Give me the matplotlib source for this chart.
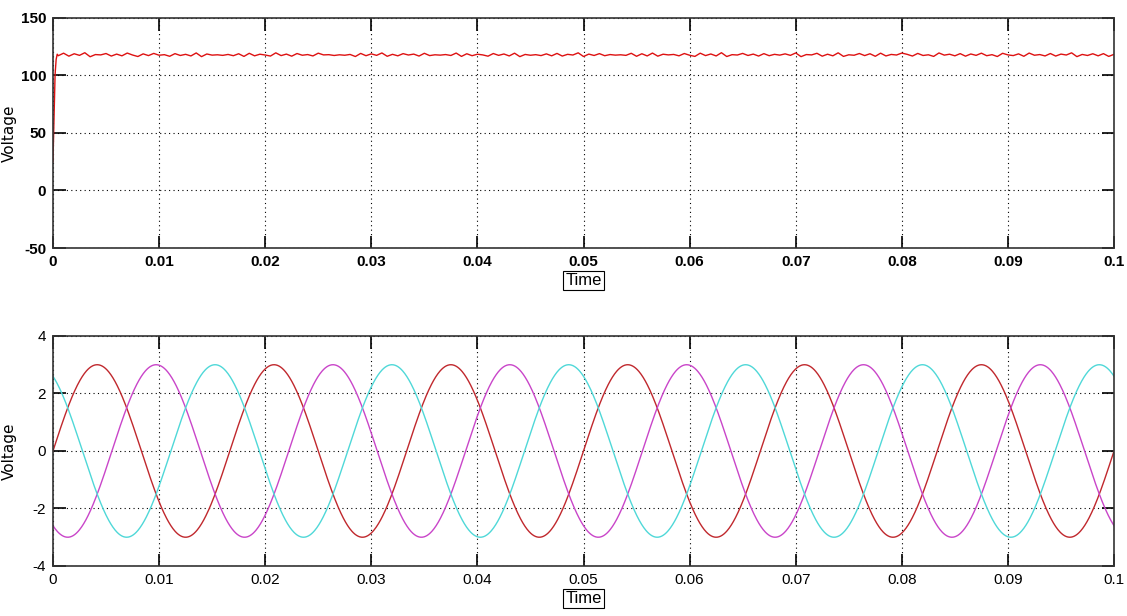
import numpy as np
import matplotlib
matplotlib.use("Agg")
from matplotlib import pyplot as plt
from matplotlib import font_manager

# top plot: rectified DC voltage (start-up then ripple around ~118)
dc_start_t = [0.0, 0.0001, 0.0002, 0.0003, 0.0004]
dc_start_v = [25.0, 62.0, 101.0, 114.0, 118.5]
dc_ripple_v = [
    117.2, 119.4, 116.8, 118.9, 117.5, 119.8, 116.3, 118.2, 117.9, 119.1,
    116.9, 118.6, 117.1, 119.5, 117.8, 116.5, 118.8, 117.3, 119.2, 117.6,
    118.1, 116.7, 119.0, 117.4, 118.4, 117.0, 119.6, 116.4, 118.7, 117.7,
    118.0, 117.5, 118.3, 117.2, 118.9, 116.6, 119.3, 117.1, 118.5, 117.8,
    116.9, 119.7, 117.3, 118.6, 116.8, 119.1, 117.6, 118.2, 117.0, 119.4,
    117.9, 118.1, 117.4, 118.0, 117.6, 118.3, 116.5, 119.2, 117.2, 118.8,
    117.5, 119.6, 116.7, 118.4, 117.1, 119.0, 117.8, 118.6, 116.9, 119.3,
    117.3, 118.0, 117.7, 118.2, 117.4, 119.5, 116.6, 118.9, 117.2, 118.5,
    117.9, 116.8, 119.1, 117.5, 118.7, 117.0, 119.4, 116.4, 118.3, 117.6,
    118.1, 117.3, 118.8, 117.1, 119.2, 116.9, 118.4, 117.8, 119.7, 116.5,
    118.6, 117.4, 119.0, 117.2, 118.2, 117.7, 118.0, 117.5, 119.3, 116.7,
    118.9, 117.0, 119.5, 116.8, 118.5, 117.9, 118.3, 117.1, 119.1, 117.6,
    116.6, 119.4, 117.3, 118.7, 117.0, 119.8, 116.5, 118.1, 117.8, 119.2,
    117.4, 118.6, 116.9, 119.0, 117.2, 118.4, 117.7, 118.8, 117.5, 119.6,
    116.4, 118.2, 117.9, 119.3, 116.8, 118.5, 117.1, 119.7, 116.6, 118.0,
    117.6, 119.1, 117.3, 118.9, 116.7, 119.4, 117.0, 118.3, 117.8, 119.5,
    118.4, 116.9, 119.2, 117.4, 118.0, 116.6, 119.6, 117.7, 118.5, 117.1,
    119.0, 116.8, 118.7, 117.5, 119.4, 117.2, 118.1, 116.5, 119.3, 117.9,
    117.3, 118.8, 116.7, 119.5, 117.6, 118.2, 117.0, 119.1, 116.9, 118.6,
    117.8, 119.7, 116.4, 118.3, 117.4, 118.9, 117.1, 119.0, 116.6, 118.4,
]

# bottom plot: three-phase sine voltages
phase_amp = 3.0
phase_freq = 60.0
phase_shift_deg = [0.0, -120.0, 120.0]
phase_colors = ["#c0282d", "#c945c9", "#4fd8d8"]

x_ticks = [0, 0.01, 0.02, 0.03, 0.04, 0.05, 0.06, 0.07, 0.08, 0.09, 0.1]
x_tick_labels = ["0", "0.01", "0.02", "0.03", "0.04", "0.05", "0.06", "0.07", "0.08", "0.09", "0.1"]
top_yticks = [-50, 0, 50, 100, 150]
bot_yticks = [-4, -2, 0, 2, 4]

names = {f.name for f in font_manager.fontManager.ttflist}
narrow = "Liberation Sans Narrow" if "Liberation Sans Narrow" in names else "Liberation Sans"

fig = plt.figure(figsize=(11.27, 6.16), dpi=100)
ax1 = fig.add_axes([0.047, 0.5974, 0.9415, 0.3734])
ax2 = fig.add_axes([0.047, 0.0812, 0.9415, 0.3734])

# top
t_rip = np.linspace(0.0005, 0.1, len(dc_ripple_v))
ax1.plot(dc_start_t + list(t_rip), dc_start_v + dc_ripple_v, color="#dd1111", lw=1.0)
ax1.set_ylim(-50, 150)
ax1.set_yticks(top_yticks)

# bottom
t = np.linspace(0, 0.1, 2000)
for sh, c in zip(phase_shift_deg, phase_colors):
    ax2.plot(t, phase_amp * np.sin(2 * np.pi * phase_freq * t + np.deg2rad(sh)), color=c, lw=1.0)
ax2.set_ylim(-4, 4)
ax2.set_yticks(bot_yticks)

for ax, bold in ((ax1, True), (ax2, False)):
    wt = "bold" if bold else "normal"
    ax.set_xlim(0, 0.1)
    ax.set_xticks(x_ticks)
    ax.set_xticklabels(x_tick_labels, fontfamily=narrow, fontsize=11, fontweight=wt)
    ax.set_yticklabels([str(v) for v in ax.get_yticks().astype(int)], fontfamily=narrow,
                       fontsize=11, fontweight=wt)
    ax.grid(True, color="black", linestyle=(0, (1, 3)), linewidth=0.8)
    ax.tick_params(direction="in", length=9, width=1.2, top=True, right=True, pad=5)
    for sp in ax.spines.values():
        sp.set_linewidth(1.2)
        sp.set_color("#333333")
    ax.set_ylabel("Voltage", fontsize=11)
    ax.yaxis.set_label_coords(-0.034, 0.5)
    ax.set_xlabel("Time", fontfamily=narrow, fontsize=12, labelpad=3,
                  bbox=dict(boxstyle="square,pad=0.12", fc="white", ec="black", lw=0.8))

fig.savefig("out.png", dpi=100, facecolor="white")
